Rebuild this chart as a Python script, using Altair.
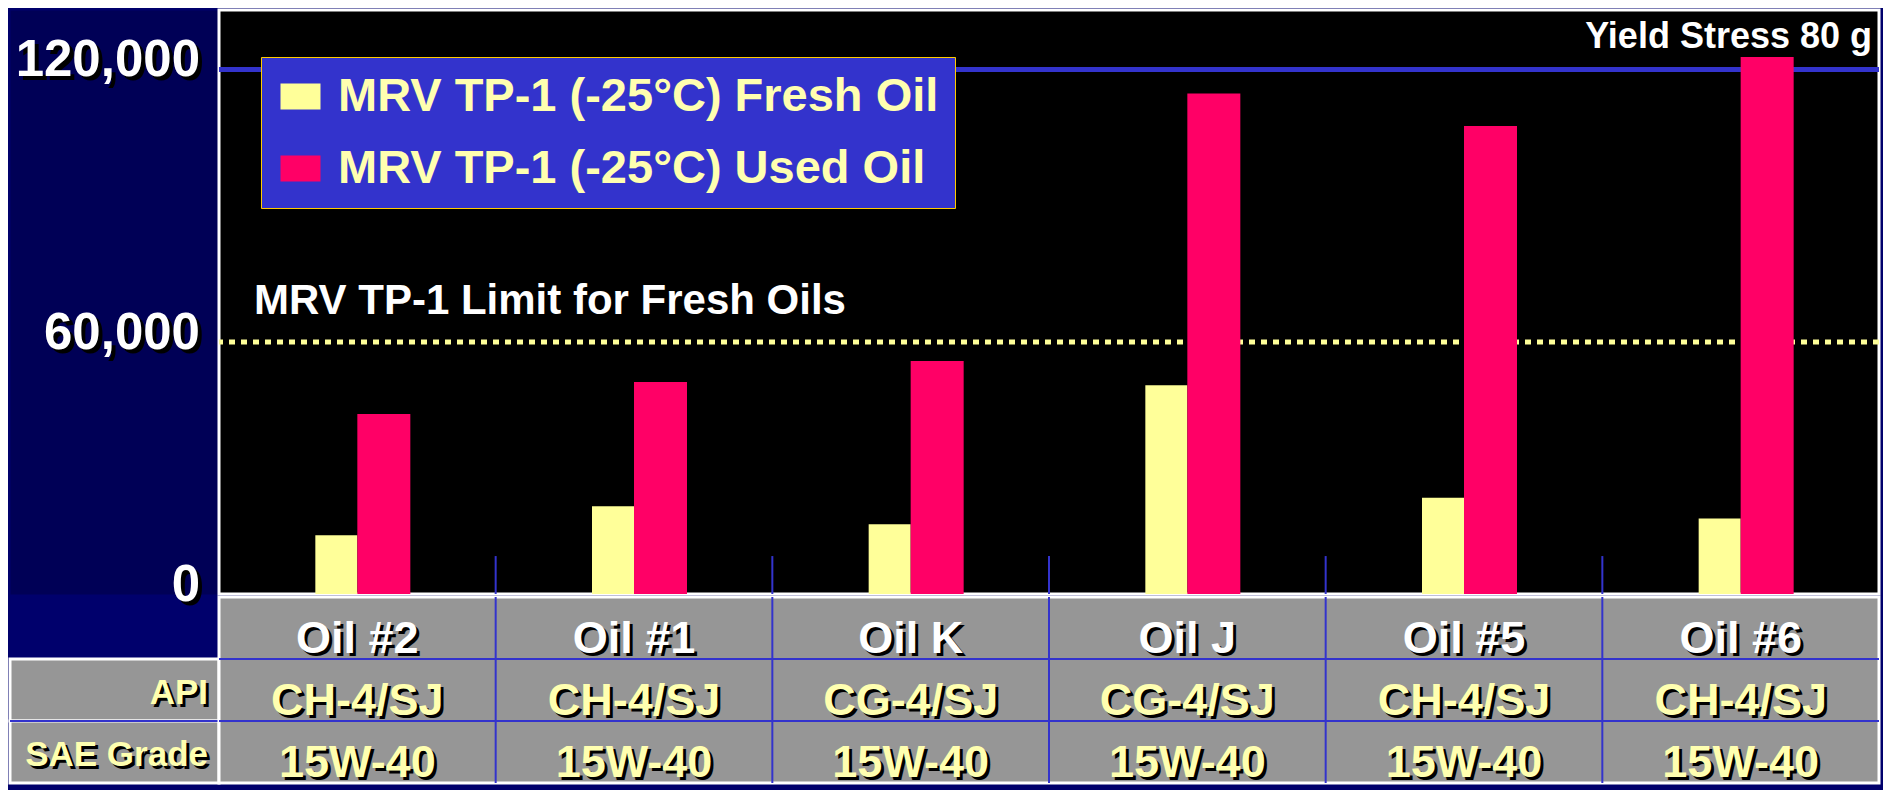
import altair as alt
import pandas as pd

# ---------------- data ----------------
oils = ["Oil #2", "Oil #1", "Oil K", "Oil J", "Oil #5", "Oil #6"]
api_class = ["CH-4/SJ", "CH-4/SJ", "CG-4/SJ", "CG-4/SJ", "CH-4/SJ", "CH-4/SJ"]
sae_grade = ["15W-40", "15W-40", "15W-40", "15W-40", "15W-40", "15W-40"]
fresh_oil = [15100, 22100, 17800, 50200, 24100, 19200]
used_oil = [43600, 50900, 55700, 114800, 107700, 122700]
series = ["MRV TP-1 (-25°C) Fresh Oil", "MRV TP-1 (-25°C) Used Oil"]
series_colors = ["#ffff99", "#ff0066"]
y_ticks = [0, 60000, 120000]
y_tick_labels = ["0", "60,000", "120,000"]
fresh_limit = [60000]
fresh_limit_label = ["MRV TP-1 Limit for Fresh Oils"]
yield_stress = [120000]
yield_stress_label = ["Yield Stress 80 g"]
table_rows = ["name", "API", "SAE"]
row_headers = ["", "API", "SAE Grade"]
y_max = 132830
y_exponent = 1.057
separator_top = [10000]

# ---------------- frames ----------------
bars = pd.DataFrame({
    "oil": oils + oils,
    "series": [series[0]] * len(oils) + [series[1]] * len(oils),
    "value": fresh_oil + used_oil,
})
fresh_df = pd.DataFrame({"value": fresh_limit, "label": fresh_limit_label})
yield_df = pd.DataFrame({"value": yield_stress, "label": yield_stress_label})
ticks_df = pd.DataFrame({"value": y_ticks, "label": y_tick_labels})
sep_df = pd.DataFrame({"oil": oils[1:], "lo": [0] * 5, "hi": separator_top * 5})
table_df = pd.DataFrame([
    {"oil": o, "row": r, "text": t}
    for r, vals in zip(table_rows, [oils, api_class, sae_grade])
    for o, t in zip(oils, vals)
])
header_df = pd.DataFrame({"row": table_rows[1:], "text": row_headers[1:]})

FONT = "Liberation Sans"
A_W, A_H = 1660, 584
L_W = 209
B_H = 186
BLUE = "#3333cc"
GRAY = "#969696"
PALE = "#ffffb0"

x_scale = alt.Scale(domain=oils, paddingInner=0, paddingOuter=0)
y_scale = alt.Scale(type="pow", exponent=y_exponent, domain=[0, y_max], nice=False)
row_scale = alt.Scale(domain=table_rows, paddingInner=0, paddingOuter=0)

legend = alt.Legend(
    title=None, orient="none", legendX=251, legendY=47,
    fillColor=BLUE, strokeColor="#ffcc00", padding=16, rowPadding=24,
    symbolType="M-1,-0.65H1V0.65H-1Z", symbolSize=1600, symbolStrokeWidth=0,
    symbolOpacity=1, labelFont=FONT, labelFontSize=47, labelFontWeight="bold",
    labelColor=PALE, labelOffset=14, labelLimit=800,
)
color = alt.Color("series:N", scale=alt.Scale(domain=series, range=series_colors), legend=legend)
X = alt.X("oil:N", sort=oils, scale=x_scale, axis=None)
Y = alt.Y("value:Q", scale=y_scale, axis=None)

# ---------------- main plot ----------------
fresh_rule = alt.Chart(fresh_df).mark_rule(color="#ffff99", strokeWidth=5, strokeDash=[6, 6]).encode(y=Y)
yield_rule = alt.Chart(yield_df).mark_rule(color=BLUE, strokeWidth=5).encode(y=Y)
sep_rules = alt.Chart(sep_df).mark_rule(color=BLUE, strokeWidth=2).encode(
    x=alt.X("oil:N", scale=x_scale, bandPosition=0, axis=None),
    y=alt.Y("lo:Q", scale=y_scale, axis=None),
    y2="hi:Q",
)
fresh_bars = alt.Chart(bars).transform_filter(alt.datum.series == series[0]).mark_bar(
    width=42, xOffset=-21).encode(x=X, y=Y, color=color)
used_bars = alt.Chart(bars).transform_filter(alt.datum.series == series[1]).mark_bar(
    width=53, xOffset=26.5).encode(x=X, y=Y, color=color)
fresh_text = alt.Chart(fresh_df).mark_text(
    align="left", baseline="alphabetic", dy=-28, font=FONT, fontSize=42,
    fontWeight="bold", color="white").encode(y=Y, x=alt.value(35), text="label:N")
yield_text = alt.Chart(yield_df).mark_text(
    align="right", baseline="alphabetic", dy=-21, font=FONT, fontSize=36,
    fontWeight="bold", color="white").encode(y=Y, x=alt.value(A_W - 7), text="label:N")

main = alt.layer(fresh_rule, yield_rule, sep_rules, fresh_bars, used_bars, fresh_text, yield_text).properties(
    width=A_W, height=A_H,
    view=alt.ViewBackground(fill="black", stroke="white", strokeWidth=3),
)

# ---------------- y labels column ----------------
tick_style = dict(align="right", baseline="alphabetic", font=FONT, fontSize=51, fontWeight="bold")
la_shadow = alt.Chart(ticks_df).mark_text(dx=4, dy=11, color="black", **tick_style).encode(
    y=Y, x=alt.value(190), text="label:N")
la_text = alt.Chart(ticks_df).mark_text(dx=0, dy=7, color="white", **tick_style).encode(
    y=Y, x=alt.value(190), text="label:N")
ylabels = alt.layer(la_shadow, la_text).properties(
    width=L_W, height=A_H, view=alt.ViewBackground(fill="#000056", stroke="transparent"))

# ---------------- table ----------------
RY = alt.Y("row:N", scale=row_scale, axis=None)
col_rules = alt.Chart(sep_df).mark_rule(color=BLUE, strokeWidth=2).encode(
    x=alt.X("oil:N", scale=x_scale, bandPosition=0, axis=None))
row_rules = alt.Chart(pd.DataFrame({"row": table_rows[1:]})).mark_rule(color=BLUE, strokeWidth=2).encode(
    y=alt.Y("row:N", scale=row_scale, bandPosition=0, axis=None))
cell_style = dict(baseline="alphabetic", font=FONT, fontSize=45, fontWeight="bold")
cell_shadow = alt.Chart(table_df).mark_text(dx=3, dy=27.5, color="black", **cell_style).encode(
    x=X, y=RY, text="text:N")
cell_text = alt.Chart(table_df).mark_text(dx=0, dy=24.5, **cell_style).encode(
    x=X, y=RY, text="text:N",
    color=alt.condition(alt.datum.row == "name", alt.value("white"), alt.value(PALE)))
table = alt.layer(col_rules, row_rules, cell_shadow, cell_text).properties(
    width=A_W, height=B_H, view=alt.ViewBackground(fill=GRAY, stroke="white", strokeWidth=3))

# ---------------- row headers ----------------
head_rect = alt.Chart(header_df).mark_rect(fill=GRAY, stroke="white", strokeWidth=3).encode(
    y=RY, x=alt.value(0), x2=alt.value(L_W))
head_rule = alt.Chart(pd.DataFrame({"row": table_rows[2:]})).mark_rule(color=BLUE, strokeWidth=2).encode(
    y=alt.Y("row:N", scale=row_scale, bandPosition=0, axis=None), x=alt.value(0), x2=alt.value(L_W))
head_style = dict(align="right", baseline="alphabetic", font=FONT, fontSize=35, fontWeight="bold")
head_shadow = alt.Chart(header_df).mark_text(dx=3, dy=17, color="black", **head_style).encode(
    y=RY, x=alt.value(198), text="text:N")
head_text = alt.Chart(header_df).mark_text(dx=0, dy=14, color=PALE, **head_style).encode(
    y=RY, x=alt.value(198), text="text:N")
headers = alt.layer(head_rect, head_rule, head_shadow, head_text).properties(
    width=L_W, height=B_H, view=alt.ViewBackground(fill="transparent", stroke="transparent"))

chart = alt.concat(
    ylabels, main, headers, table, columns=2,
    spacing=alt.RowColnumber(row=3, column=0), bounds="flush",
).configure(background="#00006c", padding=0, font=FONT)

chart.save("out.html", embed_options={"renderer": "svg", "actions": False})
